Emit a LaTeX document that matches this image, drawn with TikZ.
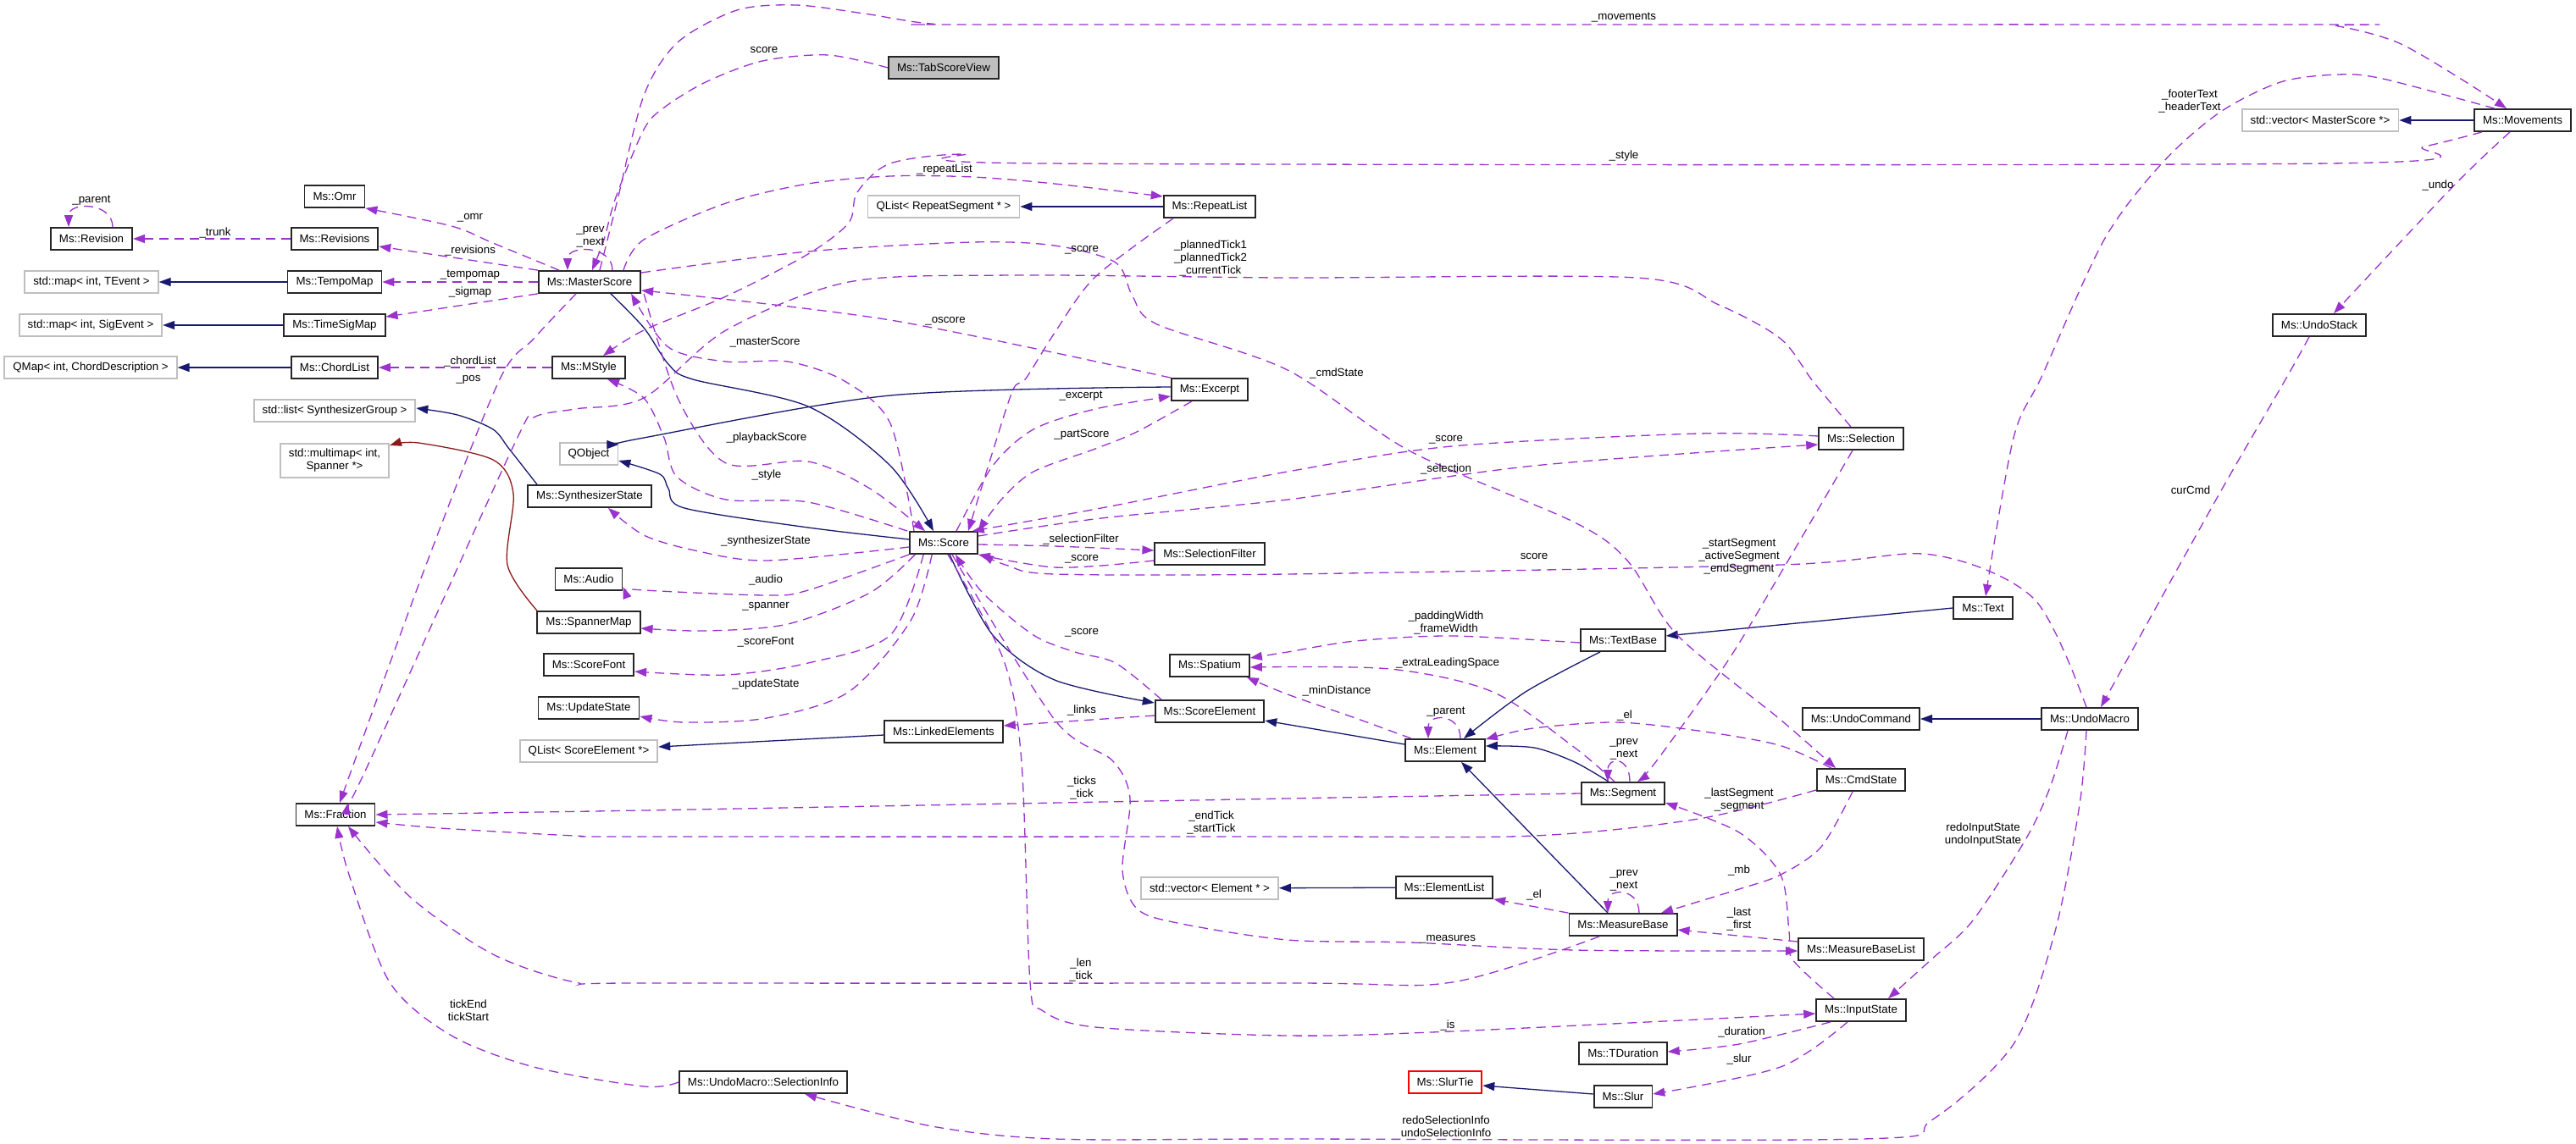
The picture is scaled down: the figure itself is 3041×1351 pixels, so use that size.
\documentclass[tikz,border=0pt]{standalone}
\usepackage{fontspec}
\setmainfont{Liberation Sans}
\usetikzlibrary{arrows.meta}
\definecolor{depcol}{HTML}{9A32CD}
\definecolor{inhcol}{HTML}{191970}
\definecolor{tplcol}{HTML}{8B1A1A}
\definecolor{extcol}{HTML}{BFBFBF}

\begin{document}
\begin{tikzpicture}[x=1pt, y=-1pt,
        every node/.style={font=\fontsize{13.3}{15}\selectfont},
        cls/.style={draw=black!85, line width=1.8pt, minimum height=26pt, inner xsep=10pt, inner ysep=0pt, fill=white},
        ext/.style={cls, draw=extcol},
        lbl/.style={inner sep=0pt, align=center},
        dep/.style={depcol, line width=1.3pt, dash pattern=on 11pt off 7pt, -{Triangle[length=14pt, width=10pt]}},
        inh/.style={inhcol, line width=1.3pt, -{Triangle[length=14pt, width=10pt]}},
        tpl/.style={tplcol, line width=1.3pt, -{Triangle[length=14pt, width=10pt]}}
    ]
    \useasboundingbox (0,0) rectangle (3041,1351);

    % classes
    \node[cls] (rev) at (108,282) {Ms::Revision};
    \node[cls] (revs) at (395,282) {Ms::Revisions};
    \node[cls] (omr) at (395,232) {Ms::Omr};
    \node[ext] (mapTE) at (108,333) {std::map< int, TEvent >};
    \node[cls] (tempomap) at (395,333) {Ms::TempoMap};
    \node[cls] (ms) at (696,333) {Ms::MasterScore};
    \node[ext] (mapSE) at (107,384) {std::map< int, SigEvent >};
    \node[cls] (sigmap) at (395,384) {Ms::TimeSigMap};
    \node[ext] (qmapCD) at (107,434) {QMap< int, ChordDescription >};
    \node[cls] (chordlist) at (395,434) {Ms::ChordList};
    \node[cls] (mstyle) at (695,434) {Ms::MStyle};
    \node[cls, fill=extcol] (tsv) at (1114,80) {Ms::TabScoreView};
    \node[ext] (qlistRS) at (1114,244) {QList< RepeatSegment * >};
    \node[cls] (repeatlist) at (1428,244) {Ms::RepeatList};
    \node[cls] (excerpt) at (1428,460) {Ms::Excerpt};
    \node[ext] (listSG) at (395,485) {std::list< SynthesizerGroup >};
    \node[ext, minimum height=40pt, align=center] (multimap) at (395,544) {std::multimap< int,\\Spanner *>};
    \node[ext] (qobject) at (695,536) {QObject};
    \node[cls] (synth) at (696,586) {Ms::SynthesizerState};
    \node[cls] (audio) at (695,684) {Ms::Audio};
    \node[cls] (spannermap) at (695,735) {Ms::SpannerMap};
    \node[cls] (scorefont) at (695,785) {Ms::ScoreFont};
    \node[cls] (updatestate) at (695,836) {Ms::UpdateState};
    \node[ext] (qlistSE) at (695,887) {QList< ScoreElement *>};
    \node[cls] (score) at (1114,641) {Ms::Score};
    \node[cls] (selfilter) at (1428,654) {Ms::SelectionFilter};
    \node[cls] (spatium) at (1428,786) {Ms::Spatium};
    \node[cls] (scoreel) at (1428,840) {Ms::ScoreElement};
    \node[cls] (linked) at (1114,864) {Ms::LinkedElements};
    \node[cls] (fraction) at (396,962) {Ms::Fraction};
    \node[ext] (vecEl) at (1428,1049) {std::vector< Element * >};
    \node[cls] (selinfo) at (901,1278) {Ms::UndoMacro::SelectionInfo};
    \node[cls] (selection) at (2197,518) {Ms::Selection};
    \node[cls] (textbase) at (1916,756) {Ms::TextBase};
    \node[cls] (element) at (1706,886) {Ms::Element};
    \node[cls] (undocmd) at (2197,849) {Ms::UndoCommand};
    \node[cls] (text) at (2341,718) {Ms::Text};
    \node[cls] (undomacro) at (2467,849) {Ms::UndoMacro};
    \node[cls] (segment) at (1916,937) {Ms::Segment};
    \node[cls] (cmdstate) at (2197,921) {Ms::CmdState};
    \node[cls] (elementlist) at (1705,1048) {Ms::ElementList};
    \node[cls] (measurebase) at (1916,1092) {Ms::MeasureBase};
    \node[cls] (mblist) at (2197,1121) {Ms::MeasureBaseList};
    \node[cls] (inputstate) at (2197,1193) {Ms::InputState};
    \node[cls] (tduration) at (1916,1244) {Ms::TDuration};
    \node[cls, draw=red] (slurtie) at (1706,1278) {Ms::SlurTie};
    \node[cls] (slur) at (1916,1295) {Ms::Slur};
    \node[ext] (vecMS) at (2739,142) {std::vector< MasterScore *>};
    \node[cls] (movements) at (2978,142) {Ms::Movements};
    \node[cls] (undostack) at (2738,384) {Ms::UndoStack};

    % inheritance
    \draw[inh] (tempomap) -- (mapTE);
    \draw[inh] (sigmap) -- (mapSE);
    \draw[inh] (chordlist) -- (qmapCD);
    \draw[inh] (repeatlist) -- (qlistRS);
    \draw[inh] (movements) -- (vecMS);
    \draw[inh] (undomacro) -- (undocmd);
    \draw[inh] (elementlist) -- (vecEl);
    \draw[inh] (text.west) -- ([yshift=5pt]textbase.east);
    \draw[inh] plot[smooth] coordinates {([xshift=-27pt]textbase.south) (1801,817) ([xshift=22pt]element.north)};
    \draw[inh] plot[smooth] coordinates {([xshift=-17pt]segment.north) (1859,900) (1811,883) ([yshift=5pt]element.east)};
    \draw[inh] ([xshift=-18pt]measurebase.north) -- ([xshift=19pt]element.south);
    \draw[inh] ([yshift=7pt]element.west) -- ([yshift=-11pt]scoreel.east);
    \draw[inh] plot[smooth] coordinates {([xshift=7pt]score.south) (1172,750) (1245,803) ([yshift=10pt]scoreel.west)};
    \draw[inh] plot[smooth] coordinates {([yshift=4pt]score.west) (954,623) (808,600) (789,577) (779,560) ([yshift=-8pt]qobject.east)};
    \draw[inh] plot[smooth] coordinates {([yshift=3pt]excerpt.west) (1051,467) (760,517) ([yshift=11pt]qobject.east)};
    \draw[inh] ([yshift=-4pt]linked.west) -- ([yshift=5pt]qlistSE.east);
    \draw[inh] ([yshift=3pt]slur.west) -- ([yshift=-4pt]slurtie.east);
    \draw[inh] plot[smooth] coordinates {([xshift=-62pt]synth.north) (601,530) (582,507) (540,490) ([yshift=3pt]listSG.east)};
    \draw[inh] plot[smooth] coordinates {([xshift=25pt]ms.south) (760,387) (789,430) (818,448) (954,480) (1051,550) ([xshift=-12pt]score.north)};
    \draw[tpl] plot[smooth] coordinates {([xshift=-61pt]spannermap.north) (599,667) (606,583) (582,543) (494,523) ([yshift=18pt]multimap.east)};

    % usage
    \draw[dep] ([xshift=25pt]rev.north) .. controls +(0,-30) and +(0,-30) .. ([xshift=-27pt]rev.north);
    \draw[dep] (revs) -- (rev);
    \draw[dep] plot[smooth] coordinates {([xshift=-36pt]ms.north) (582,287) (533,267) (omr.south east)};
    \draw[dep] (ms.north west) -- ([yshift=-9pt]revs.east);
    \draw[dep] (ms) -- (tempomap);
    \draw[dep] (ms.south west) -- ([yshift=-4pt]sigmap.north east);
    \draw[dep] ([xshift=27pt]ms.north) .. controls +(0,-30) and +(0,-30) .. ([xshift=-26pt]ms.north);
    \draw[dep] plot[smooth] coordinates {(tsv.west) (978,65) (900,72) (833,97) (784,127) (760,153) (727,233) (713,283) ([xshift=3pt]ms.north)};
    \draw[dep] plot[smooth] coordinates {([xshift=12pt]ms.north) (728,240) (760,113) (800,50) (870,12) (940,6) (1020,16) (1099,28) (1200,29) (2700,29) (2760,31) (2830,50) (2900,90) ([xshift=-19pt]movements.north)};
    \draw[dep] plot[smooth] coordinates {([xshift=-48pt]movements.south) (2862,173) (2750,193) (1235,193) (1138,182) (1051,193) (1012,227) (1002,263) (954,300) (857,350) (760,390) ([xshift=17pt]mstyle.north)};
    \draw[dep] plot[smooth] coordinates {([xshift=40pt]ms.north) (760,283) (857,240) (954,217) (1051,208) (1148,209) (1245,217) ([yshift=12pt]repeatlist.west)};
    \draw[dep] plot[smooth] coordinates {([xshift=-43pt]repeatlist.south) (1293,327) (1245,393) (1211,447) (1196,460) (1172,533) ([xshift=29pt]score.north)};
    \draw[dep] plot[smooth] coordinates {([xshift=-12pt]selection.north) (2140,450) (2102,400) (2029,360) (1932,328) (1520,328) (1196,325) (1002,333) (857,390) (760,470) (679,483) (630,493) (606,527) (436,900) ([xshift=15pt]fraction.north)};
    \draw[dep] plot[smooth] coordinates {([yshift=11pt]ms.east) (954,297) (1148,286) (1245,290) (1317,310) (1337,350) (1366,383) (1520,437) (1665,533) (1859,617) (1922,663) (1980,750) (2102,850) ([xshift=-30pt]cmdstate.north)};
    \draw[dep] plot[smooth] coordinates {(excerpt.north west) (1051,378) ([yshift=-10pt]ms.east)};
    \draw[dep] plot[smooth] coordinates {([xshift=-35pt]score.north) (1051,500) (997,450) (930,427) (857,427) (789,410) ([xshift=-12pt]ms.south east)};
    \draw[dep] plot[smooth] coordinates {([xshift=15pt]score.north) (1172,550) (1220,507) (1293,483) ([yshift=-8pt]excerpt.west)};
    \draw[dep] plot[smooth] coordinates {([xshift=-21pt]excerpt.south) (1342,510) (1293,530) (1220,557) (1182,590) (score.north east)};
    \draw[dep] plot[smooth] coordinates {([yshift=-2pt]score.east) (1245,645) ([yshift=4pt]selfilter.west)};
    \draw[dep] plot[smooth] coordinates {([yshift=-8pt]selfilter.west) (1300,668) (1245,670) (1190,662) (score.south east)};
    \draw[dep] plot[smooth] coordinates {([yshift=3pt]selection.west) (2005,512) (1714,527) (1520,557) (1300,600) ([xshift=-7pt]score.north east)};
    \draw[dep] plot[smooth] coordinates {([yshift=8pt]score.east) (1300,612) (1520,590) (1811,550) ([yshift=-7pt]selection.west)};
    \draw[dep] plot[smooth] coordinates {([xshift=-4pt]undomacro.north) (2401,707) (2280,655) (2102,667) (1520,678) (1245,678) (1190,668) ([xshift=4pt]score.south east)};
    \draw[dep] plot[smooth] coordinates {([xshift=-10pt]selection.south) (2102,677) (2040,780) (1956,898) ([xshift=17pt]segment.north)};
    \draw[dep] plot[smooth] coordinates {([yshift=-5pt]score.west) (905,662) (820,650) (760,632) ([xshift=22pt]synth.south)};
    \draw[dep] plot[smooth] coordinates {(score.south west) (954,697) (905,703) (760,697) ([yshift=-9pt]audio.east)};
    \draw[dep] plot[smooth] coordinates {([xshift=7pt]score.south west) (1027,700) (930,737) (833,745) ([yshift=-7pt]spannermap.east)};
    \draw[dep] plot[smooth] coordinates {([xshift=17pt]score.south west) (1051,750) (954,783) (857,797) ([yshift=-8pt]scorefont.east)};
    \draw[dep] plot[smooth] coordinates {([xshift=27pt]score.south west) (1075,733) (1002,817) (905,848) (808,853) ([yshift=-10pt]updatestate.east)};
    \draw[dep] plot[smooth] coordinates {([xshift=-2pt]score.north west) (954,593) (857,590) (799,563) (784,517) (760,470) ([xshift=22pt]mstyle.south)};
    \draw[dep] plot[smooth] coordinates {([xshift=3pt]ms.south east) (800,470) (857,547) (954,545) (1027,577) ([xshift=-22pt]score.north)};
    \draw[dep] ([yshift=-5pt]scoreel.west) -- ([yshift=7pt]linked.east);
    \draw[dep] plot[smooth] coordinates {([xshift=-40pt]element.north) (1600,848) (1520,820) ([xshift=-4pt]spatium.south east)};
    \draw[dep] plot[smooth] coordinates {([yshift=-3pt]textbase.west) (1714,751) (1600,757) (1520,770) ([yshift=9pt]spatium.east)};
    \draw[dep] plot[smooth] coordinates {([xshift=-10pt]segment.north) (1859,883) (1762,817) (1641,790) ([yshift=-2pt]spatium.east)};
    \draw[dep] ([xshift=18pt]element.north) .. controls +(0,-30) and +(0,-30) .. ([xshift=-20pt]element.north);
    \draw[dep] plot[smooth] coordinates {([xshift=-35pt]cmdstate.north) (2100,880) (2005,863) (1908,853) (1810,860) ([yshift=-1pt]element.north east)};
    \draw[dep] ([xshift=8pt]segment.north) .. controls +(0,-30) and +(0,-30) .. ([xshift=-18pt]segment.north);
    \draw[dep] plot[smooth] coordinates {(segment.west) (1520,943) (1196,949) (760,957) (fraction.east)};
    \draw[dep] plot[smooth] coordinates {([yshift=-12pt]cmdstate.west) (2005,967) (1811,987) (1520,988) (760,988) (679,987) (520,978) ([yshift=-9pt]fraction.east)};
    \draw[dep] plot[smooth] coordinates {([xshift=-32pt]inputstate.north) (2116,1133) (2112,1100) (2102,1033) (2053,983) ([yshift=-11pt]segment.east)};
    \draw[dep] plot[smooth] coordinates {([xshift=-10pt]cmdstate.south) (2150,1000) (2102,1033) (2053,1050) ([xshift=45pt]measurebase.north)};
    \draw[dep] ([xshift=19pt]measurebase.north) .. controls +(0,-30) and +(0,-30) .. ([xshift=-18pt]measurebase.north);
    \draw[dep] (measurebase.north west) -- (elementlist.south east);
    \draw[dep] ([yshift=9pt]mblist.west) -- ([yshift=-6pt]measurebase.east);
    \draw[dep] plot[smooth] coordinates {([xshift=10pt]score.south) (1245,850) (1313,898) (1334,943) (1325,1027) (1342,1073) (1390,1090) (1520,1110) (1665,1113) (1859,1122) ([yshift=-2pt]mblist.west)};
    \draw[dep] plot[smooth] coordinates {([xshift=5pt]score.south) (1185,780) (1206,900) (1216,1160) (1230,1193) (1293,1213) (1520,1223) (1714,1218) ([yshift=-4pt]inputstate.west)};
    \draw[dep] plot[smooth] coordinates {([xshift=-28pt]measurebase.south) (1714,1160) (1520,1161) (760,1161) (679,1160) (582,1127) (485,1060) ([xshift=15pt]fraction.south)};
    \draw[dep] plot[smooth] coordinates {(selinfo.west) (760,1283) (630,1260) (533,1223) (460,1160) (412,1033) ([xshift=2pt]fraction.south)};
    \draw[dep] plot[smooth] coordinates {([xshift=-26pt]undomacro.south) (2420,930) (2392,990) (2329,1087) (2280,1133) ([xshift=32pt]inputstate.north)};
    \draw[dep] plot[smooth] coordinates {([xshift=-4pt]undomacro.south) (2455,950) (2426,1100) (2377,1233) (2280,1323) (2199,1345) (1520,1345) (1245,1345) (1100,1330) ([xshift=49pt]selinfo.south)};
    \draw[dep] plot[smooth] coordinates {([xshift=-36pt]inputstate.south) (2053,1233) ([yshift=2pt]tduration.east)};
    \draw[dep] plot[smooth] coordinates {([xshift=-16pt]inputstate.south) (2102,1260) ([yshift=3pt]slur.east)};
    \draw[dep] plot[smooth] coordinates {([xshift=-15pt]movements.south) (2896,220) ([xshift=17pt]undostack.north)};
    \draw[dep] plot[smooth] coordinates {([xshift=-12pt]undostack.south) (2697,450) (2620,583) ([xshift=13pt]undomacro.north)};
    \draw[dep] plot[smooth] coordinates {([xshift=-33pt]movements.north) (2813,93) (2760,88) (2692,97) (2620,133) (2552,193) (2484,283) (2411,443) (2377,517) ([xshift=3pt]text.north)};
    \draw[dep] (mstyle) -- (chordlist);
    \draw[dep] plot[smooth] coordinates {([xshift=-16pt]ms.south) (630,400) (589,450) (500,675) ([xshift=5pt]fraction.north)};
    \draw[dep] plot[smooth] coordinates {([xshift=-57pt]scoreel.north) (1317,783) (1269,770) (1220,750) (1160,700) ([xshift=14pt]score.south)};

    % labels
    \node[lbl] (l1) at (108,237) {\_parent};
    \node[lbl] (l2) at (254,275) {\_trunk};
    \node[lbl] (l3) at (555,257) {\_omr};
    \node[lbl] (l4) at (697,280) {\_prev\\\_next};
    \node[lbl] (l5) at (555,296) {\_revisions};
    \node[lbl] (l6) at (555,325) {\_tempomap};
    \node[lbl] (l7) at (555,345) {\_sigmap};
    \node[lbl] (l8) at (555,427) {\_chordList};
    \node[lbl] (l9) at (553,448) {\_pos};
    \node[lbl] (l10) at (902,59) {score};
    \node[lbl] (l11) at (1917,21) {\_movements};
    \node[lbl] (l12) at (1917,184) {\_style};
    \node[lbl] (l13) at (1115,200) {\_repeatList};
    \node[lbl] (l14) at (1277,295) {\_score};
    \node[lbl] (l15) at (1429,305) {\_plannedTick1\\\_plannedTick2\\\_currentTick};
    \node[lbl] (l16) at (1116,379) {\_oscore};
    \node[lbl] (l17) at (903,404) {\_masterScore};
    \node[lbl] (l18) at (1578,441) {\_cmdState};
    \node[lbl] (l19) at (2585,120) {\_footerText\\\_headerText};
    \node[lbl] (l20) at (2878,219) {\_undo};
    \node[lbl] (l21) at (2586,579) {curCmd};
    \node[lbl] (l22) at (1276,468) {\_excerpt};
    \node[lbl] (l23) at (1277,513) {\_partScore};
    \node[lbl] (l24) at (905,517) {\_playbackScore};
    \node[lbl] (l25) at (905,561) {\_style};
    \node[lbl] (l26) at (904,639) {\_synthesizerState};
    \node[lbl] (l27) at (1276,637) {\_selectionFilter};
    \node[lbl] (l28) at (1277,660) {\_score};
    \node[lbl] (l29) at (904,685) {\_audio};
    \node[lbl] (l30) at (904,716) {\_spanner};
    \node[lbl] (l31) at (904,758) {\_scoreFont};
    \node[lbl] (l32) at (1277,747) {\_score};
    \node[lbl] (l33) at (904,808) {\_updateState};
    \node[lbl] (l34) at (1277,839) {\_links};
    \node[lbl] (l35) at (1707,519) {\_score};
    \node[lbl] (l36) at (1707,554) {\_selection};
    \node[lbl] (l37) at (1811,657) {score};
    \node[lbl] (l38) at (2053,657) {\_startSegment\\\_activeSegment\\\_endSegment};
    \node[lbl] (l39) at (1707,735) {\_paddingWidth\\\_frameWidth};
    \node[lbl] (l40) at (1709,783) {\_extraLeadingSpace};
    \node[lbl] (l41) at (1578,816) {\_minDistance};
    \node[lbl] (l42) at (1707,841) {\_parent};
    \node[lbl] (l43) at (1918,845) {\_el};
    \node[lbl] (l44) at (1917,885) {\_prev\\\_next};
    \node[lbl] (l45) at (1277,930) {\_ticks\\\_tick};
    \node[lbl] (l46) at (1430,971) {\_endTick\\\_startTick};
    \node[lbl] (l47) at (1276,1145) {\_len\\\_tick};
    \node[lbl] (l48) at (553,1193) {tickEnd\\tickStart};
    \node[lbl] (l49) at (2053,945) {\_lastSegment\\\_segment};
    \node[lbl] (l50) at (1917,1040) {\_prev\\\_next};
    \node[lbl] (l51) at (1811,1057) {\_el};
    \node[lbl] (l52) at (2053,1028) {\_mb};
    \node[lbl] (l53) at (2053,1085) {\_last\\\_first};
    \node[lbl] (l54) at (1709,1109) {\_measures};
    \node[lbl] (l55) at (1709,1211) {\_is};
    \node[lbl] (l56) at (2056,1219) {\_duration};
    \node[lbl] (l57) at (2053,1251) {\_slur};
    \node[lbl] (l58) at (1707,1330) {redoSelectionInfo\\undoSelectionInfo};
    \node[lbl] (l59) at (2341,986) {redoInputState\\undoInputState};
\end{tikzpicture}
\end{document}
